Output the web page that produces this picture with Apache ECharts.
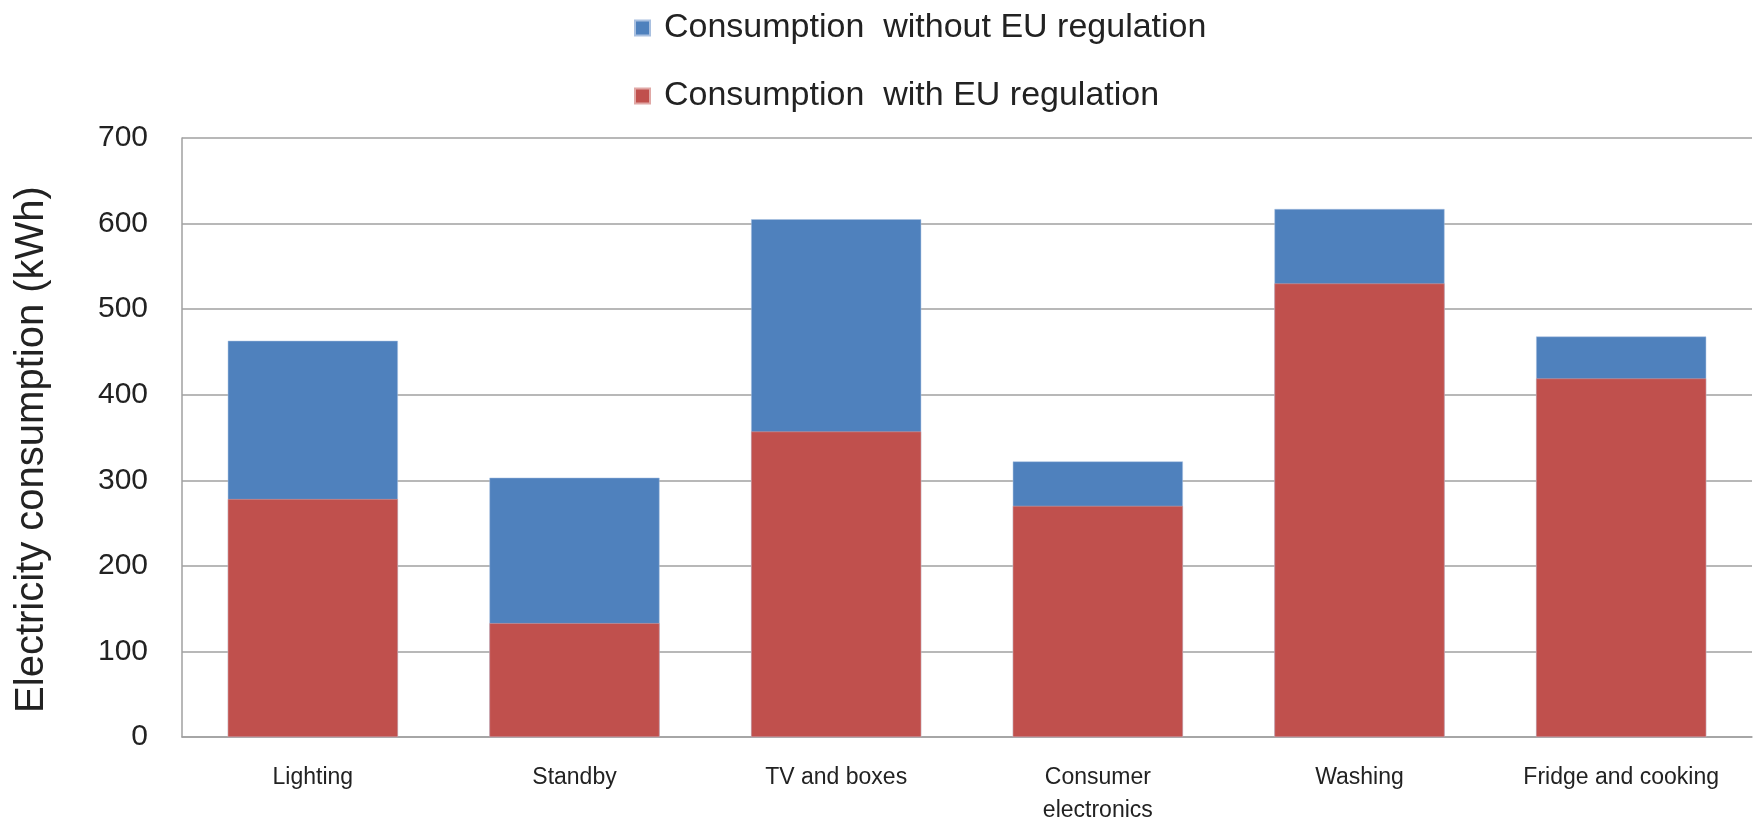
<!DOCTYPE html>
<html>
<head>
<meta charset="utf-8">
<script src="https://cdn.jsdelivr.net/npm/echarts@6/dist/echarts.min.js"></script>
<style>
html,body{margin:0;padding:0;background:#fff;}
#chart{width:1759px;height:824px;}
</style>
</head>
<body>
<div id="chart"></div>
<script>
const categories = ['Lighting', 'Standby', 'TV and boxes', 'Consumer\nelectronics', 'Washing', 'Fridge and cooking'];
const withoutEU = [463, 303, 605, 322, 617, 468];
const withEU = [278, 133, 357, 270, 530, 419];
const yTicks = { min: 0, max: 700, interval: 100 };

const font = 'Liberation Sans, Arial, sans-serif';
const chart = echarts.init(document.getElementById('chart'));
chart.setOption({
  animation: false,
  backgroundColor: '#fff',
  textStyle: { fontFamily: font, color: '#222' },
  legend: {
    orient: 'vertical',
    left: 629,
    top: 5,
    itemWidth: 15,
    itemHeight: 15,
    itemGap: 32,
    icon: 'rect',
    textStyle: { fontSize: 34, lineHeight: 36, color: '#222', fontFamily: font, padding: [0, 0, 0, 9] },
    data: ['Consumption  without EU regulation', 'Consumption  with EU regulation']
  },
  grid: { left: 182, right: 7, top: 138, bottom: 87, containLabel: false, outerBoundsMode: 'none' },
  xAxis: {
    type: 'category',
    data: categories,
    axisLine: { lineStyle: { color: '#A0A0A0', width: 1.5 } },
    axisTick: { show: false },
    axisLabel: { fontSize: 23, lineHeight: 33, color: '#222', margin: 24, interval: 0, verticalAlign: 'top' }
  },
  yAxis: {
    type: 'value',
    min: yTicks.min,
    max: yTicks.max,
    interval: yTicks.interval,
    name: 'Electricity consumption (kWh)',
    nameLocation: 'middle',
    nameGap: 130,
    nameTextStyle: { fontSize: 40, color: '#222', fontFamily: font, padding: [0, 24, 0, 0] },
    axisLine: { show: true, lineStyle: { color: '#A0A0A0', width: 1.5 } },
    axisTick: { show: false },
    axisLabel: { fontSize: 30, color: '#222', margin: 34 },
    splitLine: { lineStyle: { color: '#A0A0A0', width: 1.5 } }
  },
  series: [
    {
      name: 'Consumption  without EU regulation',
      type: 'bar',
      data: withoutEU,
      barCategoryGap: '35%',
      barGap: '-100%',
      itemStyle: { color: '#4F81BD', borderColor: '#A9C0E0', borderWidth: 0.5 }
    },
    {
      name: 'Consumption  with EU regulation',
      type: 'bar',
      data: withEU,
      barCategoryGap: '35%',
      barGap: '-100%',
      itemStyle: { color: '#C0504D', borderColor: '#E0A8A6', borderWidth: 0.5 }
    }
  ]
});
</script>
</body>
</html>
